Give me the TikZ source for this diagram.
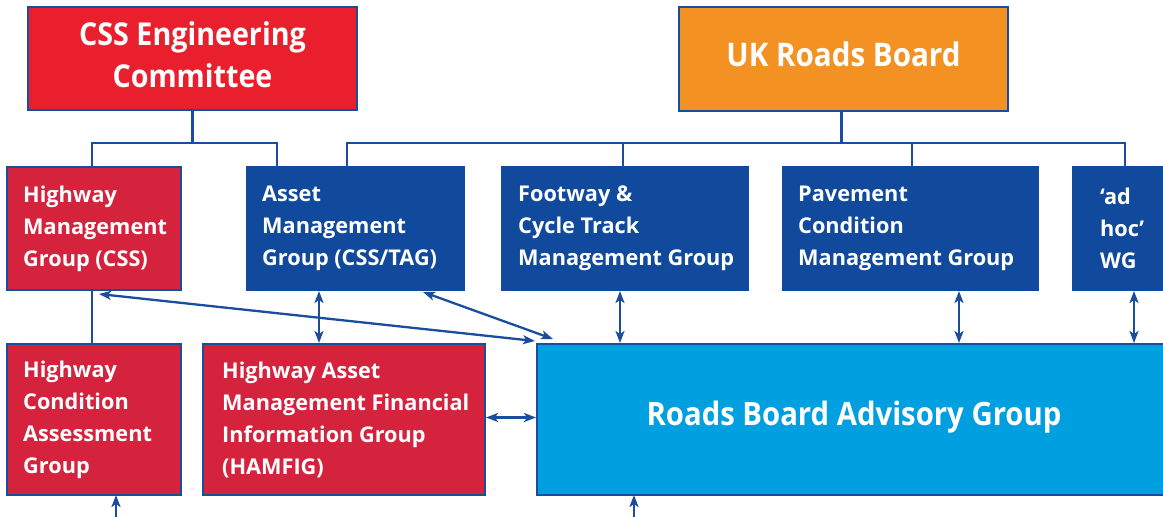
\documentclass[tikz,border=0pt]{standalone}
\usepackage{fontspec}
\setmainfont{Open Sans}
\newfontfamily\titlefont{Open Sans}[FakeStretch=0.91]
\usetikzlibrary{arrows.meta,calc}

\definecolor{cssred}{RGB}{233,31,45}
\definecolor{grpred}{RGB}{213,35,62}
\definecolor{navy}{RGB}{17,74,156}
\definecolor{boardorange}{RGB}{243,146,34}
\definecolor{sky}{RGB}{0,160,224}
\definecolor{edge}{RGB}{26,77,158}

\tikzset{
  box/.style={draw=edge, line width=2.2pt, anchor=north west, inner sep=0pt, outer sep=0pt},
  redbox/.style={box, fill=grpred},
  navybox/.style={box, fill=navy, draw=navy},
  lbl/.style={anchor=west, align=left, text=white, inner sep=0pt,
    font=\bfseries\fontsize{21.7}{32}\selectfont},
  conn/.style={draw=edge, line width=2.3pt},
  tip/.tip={Stealth[length=12pt,width=9pt,inset=3pt]},
  dbl/.style={conn, tip-tip},
  sgl/.style={conn, -tip}
}

\begin{document}
\begin{tikzpicture}[x=1pt,y=-1pt]
\clip (0,0) rectangle (1163,517);

% --- top level bodies
\node[box, fill=cssred, minimum width=329, minimum height=103] (css) at (28,7) {};
\node[anchor=center, align=center, text=white, inner sep=0pt, yshift=4pt,
  font=\titlefont\bfseries\fontsize{31.5}{42}\selectfont] (csst) at (css.center)
  {CSS Engineering\\Committee};

\node[box, fill=boardorange, minimum width=329, minimum height=104] (ukrb) at (679,7) {};
\node[anchor=center, text=white, inner sep=0pt, yshift=5pt,
  font=\titlefont\bfseries\fontsize{32.5}{40}\selectfont] (ukrbt) at (ukrb.center) {UK Roads Board};

% --- working groups
\node[redbox, minimum width=174, minimum height=123] (hmg) at (7,167) {};
\node[lbl] (hmgt) at ($(hmg.west)+(16,0)$) {Highway\\Management\\Group (CSS)};

\node[navybox, minimum width=217, minimum height=123] (amg) at (247,167) {};
\node[lbl] (amgt) at ($(amg.west)+(15,0)$) {Asset\\Management\\Group (CSS/TAG)};

\node[navybox, minimum width=246, minimum height=123] (foot) at (502,167) {};
\node[lbl] (foott) at ($(foot.west)+(16,0)$) {Footway \&\\Cycle Track\\Management Group};

\node[navybox, minimum width=255, minimum height=123] (pav) at (783,167) {};
\node[lbl] (pavt) at ($(pav.west)+(15,0)$) {Pavement\\Condition\\Management Group};

\node[navybox, minimum width=120, minimum height=123] (adhoc) at (1073,167) {};
\node[lbl] (adhoct) at ($(adhoc.west)+(27,0)$) {‘ad\\hoc’\\WG};

% --- lower row
\node[redbox, minimum width=174, minimum height=151] (hcag) at (7,344) {};
\node[lbl] (hcagt) at ($(hcag.west)+(16,0)$) {Highway\\Condition\\Assessment\\Group};

\node[redbox, minimum width=282, minimum height=151] (hamfig) at (203,344) {};
\node[lbl] (hamfigt) at ($(hamfig.west)+(19,0)$) {Highway Asset\\Management Financial\\Information Group\\(HAMFIG)};

\node[box, fill=sky, minimum width=640, minimum height=151] (rbag) at (537,344) {};
\node[anchor=center, text=white, inner sep=0pt, yshift=2.5pt,
  font=\titlefont\bfseries\fontsize{32.2}{38}\selectfont] (rbagt) at ($(rbag.west)+(317,0)$)
  {Roads Board Advisory Group};

% --- reporting lines
\coordinate (jc) at ($(css.south)+(0,33)$);
\coordinate (ju) at ($(ukrb.south)+(-2,32)$);
\draw[conn] (css.south) -- (jc);
\draw[conn] ($(hmg.north west)+(85,0)$) |- (jc);
\draw[conn] ($(amg.north west)+(30,0)$) |- (jc);

\draw[conn] ($(ukrb.south)+(-2,0)$) -- (ju);
\draw[conn] ($(amg.north west)+(100,0)$) |- (ju);
\draw[conn] ($(foot.north west)+(121,0)$) |- (ju);
\draw[conn] ($(pav.north west)+(129,0)$) |- (ju);
\draw[conn] ($(adhoc.north west)+(52,0)$) |- (ju);

\draw[conn] ($(hmg.south west)+(85,0)$) -- ($(hcag.north west)+(85,0)$);

% --- two-way links
\draw[dbl] ($(amg.south west)+(72,1)$) -- ($(hamfig.north west)+(116,-1)$);
\draw[dbl] ($(foot.south west)+(118,1)$) -- ($(rbag.north west)+(83,-1)$);
\draw[dbl] ($(pav.south west)+(176,1)$) -- ($(rbag.north west)+(422,-1)$);
\draw[dbl] ($(adhoc.south west)+(61,1)$) -- ($(rbag.north west)+(597,-1)$);
\draw[dbl] ($(hamfig.east)+(1,-2)$) -- ($(rbag.west)+(-1,-2)$);
\draw[dbl] ($(hmg.south west)+(92,4)$) -- ($(rbag.north west)+(-2,-3)$);
\draw[dbl] ($(amg.south west)+(176,2)$) -- ($(rbag.north west)+(16,-5)$);

% --- inputs from below
\coordinate (in1) at (116,530);
\coordinate (in2) at (634,530);
\draw[sgl] (in1) -- (hcag.south -| in1);
\draw[sgl] (in2) -- (rbag.south -| in2);
\end{tikzpicture}
\end{document}
